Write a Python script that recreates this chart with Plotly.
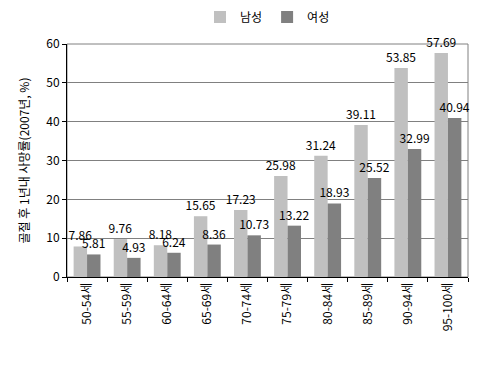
import plotly.graph_objects as go

categories = ["50-54세", "55-59세", "60-64세", "65-69세", "70-74세",
              "75-79세", "80-84세", "85-89세", "90-94세", "95-100세"]
male = [7.86, 9.76, 8.18, 15.65, 17.23, 25.98, 31.24, 39.11, 53.85, 57.69]
female = [5.81, 4.93, 6.24, 8.36, 10.73, 13.22, 18.93, 25.52, 32.99, 40.94]

font_family = "Noto Sans CJK KR, Noto Sans, sans-serif"

fig = go.Figure()
for name, vals, col in [("남성", male, "#C0C0C0"), ("여성", female, "#808080")]:
    fig.add_trace(go.Bar(x=categories, y=vals, name=name, marker_color=col,
                         marker_line_width=0,
                         text=[f"{v:.2f}" for v in vals], textposition="outside",
                         constraintext="none",
                         outsidetextfont=dict(size=12, color="#000000", family=font_family),
                         cliponaxis=False))

fig.update_layout(
    width=480, height=368,
    margin=dict(l=59, r=20, t=36, b=99, autoexpand=False),
    paper_bgcolor="white", plot_bgcolor="white",
    font=dict(family=font_family, size=12, color="#000000"),
    barmode="group", bargap=0.33, bargroupgap=0,
    showlegend=True,
    legend=dict(orientation="h", x=0.5, xanchor="center", y=1.116, yanchor="middle",
                font=dict(size=12), itemwidth=30, tracegroupgap=0),
    xaxis=dict(tickangle=-90, showline=True, linecolor="#000000", linewidth=1,
               ticks="outside", ticklen=4, tickcolor="#000000",
               tickson="boundaries", showgrid=False, automargin=False,
               tickfont=dict(size=12)),
    yaxis=dict(range=[0, 60], dtick=10, showline=True, linecolor="#000000", linewidth=1,
               ticks="outside", ticklen=4, tickcolor="#000000",
               gridcolor="#808080", gridwidth=1, zeroline=False, automargin=False,
               title=dict(text="골절 후 1년내 사망률(2007년, %)", font=dict(size=12), standoff=14),
               tickfont=dict(size=12)),
)
fig.add_shape(type="rect", xref="paper", yref="paper", x0=0, y0=0, x1=1, y1=1,
              line=dict(color="#808080", width=1), layer="below")

fig.write_html("out.html")
